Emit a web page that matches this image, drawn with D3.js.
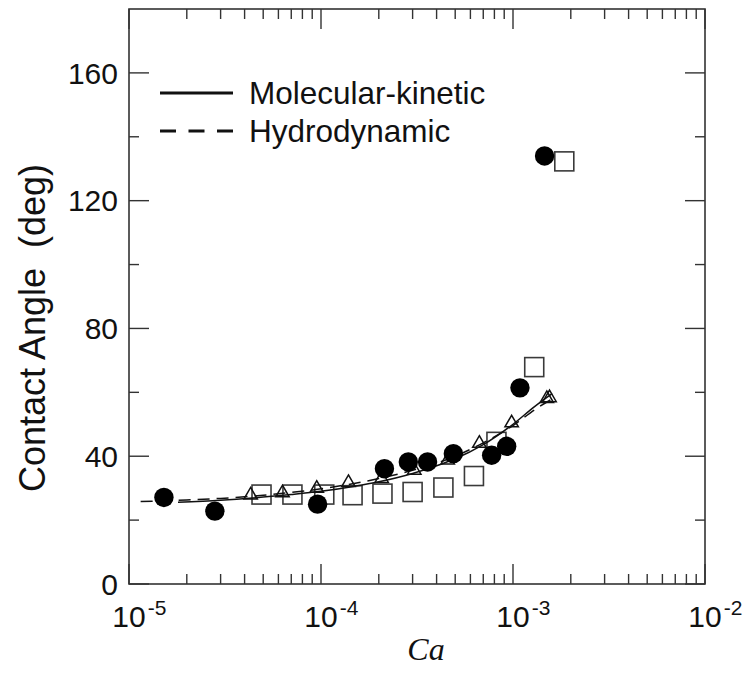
<!DOCTYPE html>
<html>
<head>
<meta charset="utf-8">
<script src="https://cdn.jsdelivr.net/npm/d3@7"></script>
<style>
  html, body { margin: 0; padding: 0; background: #fff; }
  svg { display: block; }
  text { font-family: Arial, "Liberation Sans", Helvetica, sans-serif; fill: #111; }
  text.serif { font-family: "Liberation Serif", "Times New Roman", serif; font-style: italic; }
</style>
</head>
<body>
<svg id="chart" width="743" height="679"></svg>
<script>
// Measured contact angles (Ca, deg)
const circles = [
  [1.52e-5, 27.1], [2.8e-5, 22.8], [9.6e-5, 25.0], [2.14e-4, 36.1],
  [2.85e-4, 38.2], [3.59e-4, 38.2], [4.89e-4, 40.8], [7.74e-4, 40.3],
  [9.27e-4, 43.1], [1.087e-3, 61.4], [1.46e-3, 134.0]
];
const squares = [
  [4.9e-5, 28.0], [7.1e-5, 28.0], [1.04e-4, 28.0], [1.46e-4, 27.8],
  [2.09e-4, 28.3], [3.0e-4, 28.8], [4.34e-4, 30.2], [6.26e-4, 33.8],
  [8.2e-4, 44.5], [1.29e-3, 67.9], [1.85e-3, 132.3]
];
const triangles = [
  [4.3e-5, 27.8], [6.3e-5, 28.5], [9.5e-5, 29.9], [1.39e-4, 31.7],
  [2.07e-4, 33.0], [3.06e-4, 35.6], [4.57e-4, 38.75], [6.68e-4, 44.0],
  [9.84e-4, 50.4], [1.5e-3, 58.0], [1.55e-3, 58.3]
];

// Model curves
const molecularKinetic = [
  [1.8e-5, 25.6], [3e-5, 26.2], [5e-5, 27.2], [7e-5, 28.0], [1e-4, 29.0],
  [1.5e-4, 30.6], [2e-4, 32.0], [3e-4, 34.6], [4e-4, 37.0], [5e-4, 39.2],
  [7e-4, 43.6], [1e-3, 50.0], [1.3e-3, 55.6], [1.6e-3, 59.6]
];
const hydrodynamic = [
  [1.15e-5, 25.8], [2e-5, 26.3], [3e-5, 26.8], [5e-5, 27.8], [1e-4, 29.8],
  [2e-4, 33.0], [3e-4, 35.6], [5e-4, 40.0], [7e-4, 44.2], [1e-3, 49.6],
  [1.3e-3, 54.6], [1.65e-3, 58.4]
];

const xMajorTicks = [1e-5, 1e-4, 1e-3, 1e-2];
const xTickExponents = ["-5", "-4", "-3", "-2"];
const yMajorTicks = [0, 40, 80, 120, 160];
const yMinorTicks = [20, 60, 100, 140];
const legendLabels = ["Molecular-kinetic", "Hydrodynamic"];

const svg = d3.select("#chart");
const plotLeft = 129, plotRight = 705, plotTop = 9, plotBottom = 584;

const x = d3.scaleLog().domain([1e-5, 1e-2]).range([plotLeft, plotRight]);
const y = d3.scaleLinear().domain([0, 180]).range([plotBottom, plotTop]);

const xMinor = [];
[1e-5, 1e-4, 1e-3].forEach(d => { for (let k = 2; k <= 9; k++) xMinor.push(d * k); });

const axisColor = "#333";

// Frame
svg.append("rect")
  .attr("x", plotLeft).attr("y", plotTop)
  .attr("width", plotRight - plotLeft).attr("height", plotBottom - plotTop)
  .attr("fill", "none").attr("stroke", axisColor).attr("stroke-width", 1.6);

// Inward ticks on all four sides
const majorLen = 20, minorLen = 10;
const tickG = svg.append("g").attr("stroke", axisColor).attr("stroke-width", 1.4);
xMajorTicks.forEach(v => {
  tickG.append("line").attr("x1", x(v)).attr("x2", x(v)).attr("y1", plotBottom).attr("y2", plotBottom - majorLen);
  tickG.append("line").attr("x1", x(v)).attr("x2", x(v)).attr("y1", plotTop).attr("y2", plotTop + majorLen);
});
xMinor.forEach(v => {
  tickG.append("line").attr("x1", x(v)).attr("x2", x(v)).attr("y1", plotBottom).attr("y2", plotBottom - minorLen);
  tickG.append("line").attr("x1", x(v)).attr("x2", x(v)).attr("y1", plotTop).attr("y2", plotTop + minorLen);
});
yMajorTicks.forEach(v => {
  tickG.append("line").attr("x1", plotLeft).attr("x2", plotLeft + majorLen).attr("y1", y(v)).attr("y2", y(v));
  tickG.append("line").attr("x1", plotRight).attr("x2", plotRight - majorLen).attr("y1", y(v)).attr("y2", y(v));
});
yMinorTicks.forEach(v => {
  tickG.append("line").attr("x1", plotLeft).attr("x2", plotLeft + minorLen).attr("y1", y(v)).attr("y2", y(v));
  tickG.append("line").attr("x1", plotRight).attr("x2", plotRight - minorLen).attr("y1", y(v)).attr("y2", y(v));
});

// Y tick labels
svg.append("g").selectAll("text").data(yMajorTicks).join("text")
  .attr("x", plotLeft - 11).attr("y", d => y(d)).attr("dy", "0.36em")
  .attr("text-anchor", "end").attr("font-size", 30)
  .text(d => d);

// X tick labels: 10 with superscript exponent
const baseFont = 30, supFont = 21;
const baseW = 2 * 0.556 * baseFont;
xMajorTicks.forEach((v, i) => {
  const t = svg.append("text").attr("x", x(v) - baseW / 2).attr("y", 627).attr("font-size", baseFont);
  t.append("tspan").text("10");
  t.append("tspan").attr("dx", 2).attr("dy", -12).attr("font-size", supFont).text(xTickExponents[i]);
});

// Axis titles
svg.append("text")
  .attr("class", "serif")
  .attr("x", 426).attr("y", 660)
  .attr("text-anchor", "middle")
  .attr("font-size", 32)
  .text("Ca");

svg.append("text")
  .attr("transform", "translate(45,328) rotate(-90)")
  .attr("text-anchor", "middle").attr("font-size", 36)
  .style("white-space", "pre")
  .text("Contact Angle  (deg)");

// Open squares
svg.append("g").selectAll("rect").data(squares).join("rect")
  .attr("x", d => x(d[0]) - 9.5).attr("y", d => y(d[1]) - 9.5)
  .attr("width", 19).attr("height", 19)
  .attr("fill", "#fff").attr("stroke", "#3a3a3a").attr("stroke-width", 1.6);

// Model curves
const line = d3.line().x(d => x(d[0])).y(d => y(d[1])).curve(d3.curveMonotoneX);
svg.append("path").datum(molecularKinetic).attr("d", line)
  .attr("fill", "none").attr("stroke", "#111").attr("stroke-width", 1.5);
svg.append("path").datum(hydrodynamic).attr("d", line)
  .attr("fill", "none").attr("stroke", "#111").attr("stroke-width", 1.5)
  .attr("stroke-dasharray", "12,7");

// Open triangles
const triSym = d3.symbol().type(d3.symbolTriangle).size(78);
svg.append("g").selectAll("path").data(triangles).join("path")
  .attr("transform", d => `translate(${x(d[0])},${y(d[1])})`)
  .attr("d", triSym)
  .attr("fill", "none").attr("stroke", "#111").attr("stroke-width", 1.5);

// Filled circles
svg.append("g").selectAll("circle").data(circles).join("circle")
  .attr("cx", d => x(d[0])).attr("cy", d => y(d[1])).attr("r", 9.7)
  .attr("fill", "#000");

// Legend
const legend = svg.append("g");
legendLabels.forEach((lab, i) => {
  const ly = 93 + i * 38;
  legend.append("line")
    .attr("x1", 160).attr("x2", 233).attr("y1", ly).attr("y2", ly)
    .attr("stroke", "#111").attr("stroke-width", 3)
    .attr("stroke-dasharray", i === 1 ? "16,12.5" : null);
  legend.append("text")
    .attr("x", 249).attr("y", ly + 11).attr("font-size", 31.5)
    .text(lab);
});
</script>
</body>
</html>
